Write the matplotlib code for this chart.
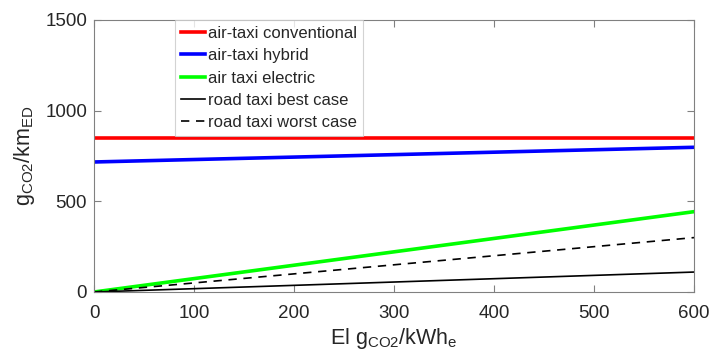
import matplotlib.pyplot as plt
import numpy as np

plt.rcParams['font.family'] = ['Liberation Sans', 'DejaVu Sans']
plt.rcParams['mathtext.fontset'] = 'custom'
plt.rcParams['mathtext.rm'] = 'Liberation Sans'
plt.rcParams['mathtext.it'] = 'Liberation Sans'

# intensidad de la red eléctrica (g CO2 / kWh_e)
el_intensity = [0, 600]

# emisiones por km (g CO2 / km_ED) en los extremos
air_conventional = [850, 850]
air_hybrid = [717, 798]
air_electric = [0, 443]
road_best = [0, 110]
road_worst = [0, 300]

labels = ['air-taxi conventional', 'air-taxi hybrid', 'air taxi electric',
          'road taxi best case', 'road taxi worst case']

fig = plt.figure(figsize=(7.11, 3.56), dpi=100)
ax = fig.add_axes([94 / 711, 1 - 292 / 356, 600 / 711, 272 / 356])

ax.plot(el_intensity, air_conventional, color='#ff0000', lw=2.6, label=labels[0])
ax.plot(el_intensity, air_hybrid, color='#0000ff', lw=2.6, label=labels[1])
ax.plot(el_intensity, air_electric, color='#00ff00', lw=2.6, label=labels[2])
ax.plot(el_intensity, road_best, color='black', lw=1.2, label=labels[3])
ax.plot(el_intensity, road_worst, color='black', lw=1.2, ls=(0, (5, 4)), label=labels[4])

ax.set_xlim(0, 600)
ax.set_ylim(0, 1500)
ax.set_xticks([0, 100, 200, 300, 400, 500, 600])
ax.set_yticks([0, 500, 1000, 1500])

for s in ax.spines.values():
    s.set_color('#808080')
    s.set_linewidth(0.8)
ax.tick_params(direction='in', top=True, right=True, length=5, width=0.8,
               color='#808080', labelcolor='#262626', labelsize=13.5)
ax.tick_params(axis='x', pad=9)
ax.tick_params(axis='y', pad=5)

ax.set_xlabel(r'El $\mathregular{g_{CO2}/kWh_e}$', fontsize=15.5, color='#262626', labelpad=3)
ax.set_ylabel(r'$\mathregular{g_{CO2}/km_{ED}}$', fontsize=15.5, color='#262626', labelpad=6)

leg = ax.legend(loc='upper left', bbox_to_anchor=(81 / 600, 1.0), fontsize=12,
                frameon=True, fancybox=False, borderpad=0.35, labelspacing=0.44,
                handlelength=1.45, handletextpad=0.2, borderaxespad=0)
leg.get_frame().set_edgecolor('#c8c8c8')
leg.get_frame().set_linewidth(0.8)
for t in leg.get_texts():
    t.set_color('#262626')

fig.savefig('out.png', dpi=100)
